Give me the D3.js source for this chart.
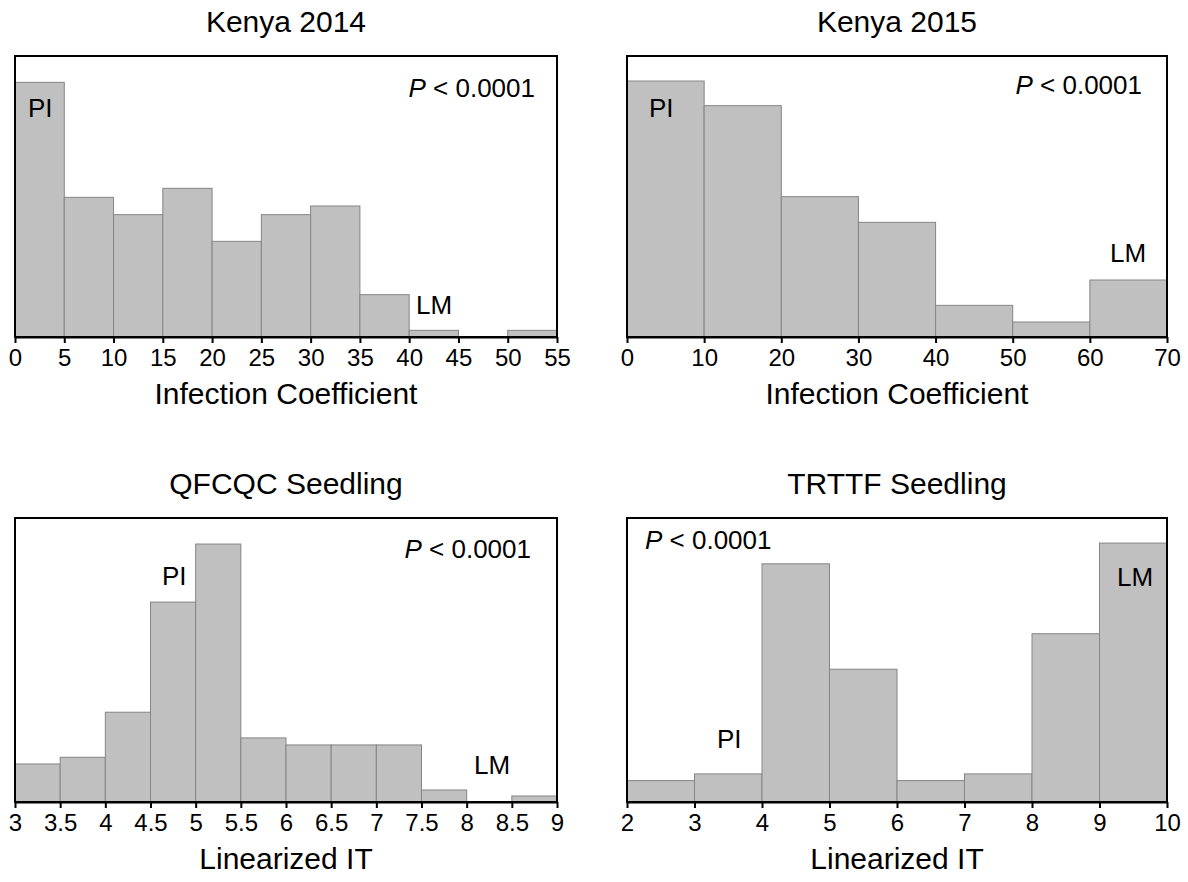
<!DOCTYPE html>
<html><head><meta charset="utf-8">
<script src="https://cdn.jsdelivr.net/npm/d3@7"></script>
<style>
body{margin:0;background:#fff}
text{font-family:"Liberation Sans",Arial,Helvetica,sans-serif;fill:#000}
</style>
</head><body>
<svg id="c" width="1188" height="882"></svg>
<script>
// ---- data (relative frequency) ----
const kenya2014Edges = [0,5,10,15,20,25,30,35,40,45,50,55];
const kenya2014Values = [76.4,41.9,36.7,44.6,28.7,36.7,39.3,12.7,2.0,0,2.0];
const kenya2014Ticks = ["0","5","10","15","20","25","30","35","40","45","50","55"];

const kenya2015Edges = [0,10,20,30,40,50,60,70];
const kenya2015Values = [76.8,69.4,42.1,34.4,9.5,4.5,17.1];
const kenya2015Ticks = ["0","10","20","30","40","50","60","70"];

const qfcqcEdges = [3,3.5,4,4.5,5,5.5,6,6.5,7,7.5,8,8.5,9];
const qfcqcValues = [11.4,13.4,26.9,59.9,77.3,19.2,17.1,17.1,17.1,3.6,0,1.8];
const qfcqcTicks = ["3","3.5","4","4.5","5","5.5","6","6.5","7","7.5","8","8.5","9"];

const trttfEdges = [2,3,4,5,6,7,8,9,10];
const trttfValues = [6.4,8.4,71.2,39.7,6.4,8.4,50.3,77.4];
const trttfTicks = ["2","3","4","5","6","7","8","9","10"];

const titles = ["Kenya 2014","Kenya 2015","QFCQC Seedling","TRTTF Seedling"];
const xTitles = ["Infection Coefficient","Infection Coefficient","Linearized IT","Linearized IT"];
const pText = "< 0.0001";

// ---- layout ----
const panels = [
  {edges:kenya2014Edges, values:kenya2014Values, ticks:kenya2014Ticks, ymax:84.3,
   box:{x0:15,x1:557,y0:56,y1:337},
   ann:[{t:"PI",x:13,y:61},{t:"LM",x:401,y:258}], p:{anchor:"end",x:-22,y:41}},
  {edges:kenya2015Edges, values:kenya2015Values, ticks:kenya2015Ticks, ymax:84.3,
   box:{x0:627,x1:1167,y0:56,y1:337},
   ann:[{t:"PI",x:22,y:61},{t:"LM",x:483,y:206}], p:{anchor:"end",x:-25,y:38}},
  {edges:qfcqcEdges, values:qfcqcValues, ticks:qfcqcTicks, ymax:85.1,
   box:{x0:15,x1:557,y0:518,y1:802},
   ann:[{t:"PI",x:147,y:67},{t:"LM",x:459,y:256}], p:{anchor:"end",x:-26,y:40}},
  {edges:trttfEdges, values:trttfValues, ticks:trttfTicks, ymax:84.9,
   box:{x0:627,x1:1167,y0:518,y1:802},
   ann:[{t:"PI",x:90,y:230},{t:"LM",x:490,y:68}], p:{anchor:"start",x:18,y:31}}
];

const svg = d3.select("#c");

panels.forEach((P,i)=>{
  const b = P.box;
  const x = d3.scaleLinear().domain([P.edges[0], P.edges[P.edges.length-1]]).range([b.x0,b.x1]);
  const y = d3.scaleLinear().domain([0,P.ymax]).range([b.y1,b.y0]);
  const g = svg.append("g");
  const bins = P.values.map((v,j)=>({x0:P.edges[j], x1:P.edges[j+1], v}));

  g.selectAll("rect.bar").data(bins.filter(d=>d.v>0)).join("rect")
    .attr("class","bar")
    .attr("x",d=>x(d.x0)).attr("width",d=>x(d.x1)-x(d.x0))
    .attr("y",d=>y(d.v)).attr("height",d=>y(0)-y(d.v))
    .attr("fill","#c0c0c0").attr("stroke","#858585").attr("stroke-width",1);

  // frame
  g.append("rect").attr("x",b.x0).attr("y",b.y0).attr("width",b.x1-b.x0).attr("height",b.y1-b.y0)
    .attr("fill","none").attr("stroke","#000").attr("stroke-width",2);

  // x axis
  const ax = d3.axisBottom(x).tickValues(P.edges).tickFormat((d,j)=>P.ticks[j])
    .tickSize(6).tickPadding(6).tickSizeOuter(0);
  const axg = g.append("g").attr("transform",`translate(0,${b.y1})`).call(ax);
  axg.select(".domain").attr("stroke","#000").attr("stroke-width",2);
  axg.selectAll(".tick line").attr("stroke","#000").attr("stroke-width",2);
  axg.selectAll(".tick text").attr("font-size",24).attr("fill","#000")
    .style("font-family",'"Liberation Sans",Arial,sans-serif');

  const cx = (b.x0+b.x1)/2;
  g.append("text").attr("x",cx).attr("y",b.y0-24).attr("text-anchor","middle")
    .attr("font-size",30).text(titles[i]);
  g.append("text").attr("x",cx).attr("y",b.y1+67).attr("text-anchor","middle")
    .attr("font-size",30).text(xTitles[i]);

  P.ann.forEach(a=>{
    g.append("text").attr("x",b.x0+a.x).attr("y",b.y0+a.y).attr("font-size",26).text(a.t);
  });
  const pt = g.append("text").attr("font-size",26).attr("text-anchor",P.p.anchor)
    .attr("x", P.p.anchor==="end" ? b.x1+P.p.x : b.x0+P.p.x).attr("y",b.y0+P.p.y);
  pt.append("tspan").attr("font-style","italic").text("P");
  pt.append("tspan").text(" "+pText);
});
</script>
</body></html>
